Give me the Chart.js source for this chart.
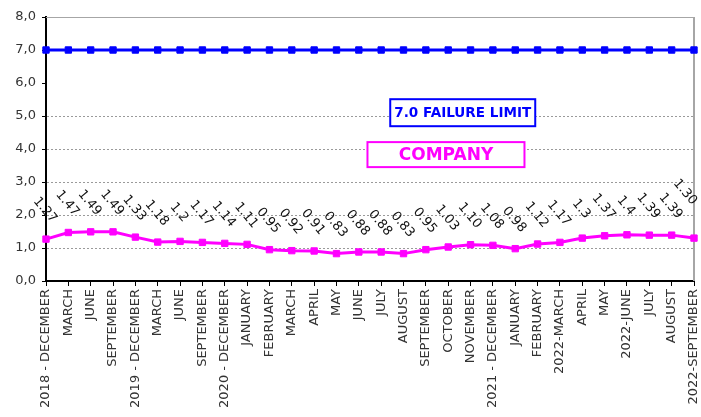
<!DOCTYPE html>
<html>
<head>
<meta charset="utf-8">
<script src="https://cdn.jsdelivr.net/npm/chart.js@4/dist/chart.umd.min.js"></script>
<style>
  html, body { margin: 0; padding: 0; background: #fff; }
  #wrap { width: 701px; height: 417px; }
</style>
</head>
<body>
<div id="wrap"><canvas id="chart" width="701" height="417"></canvas></div>
<script>
// Period labels along the bottom axis
const categories = [
  '2018 - DECEMBER', 'MARCH', 'JUNE', 'SEPTEMBER',
  '2019 - DECEMBER', 'MARCH', 'JUNE', 'SEPTEMBER',
  '2020 - DECEMBER', 'JANUARY', 'FEBRUARY', 'MARCH', 'APRIL', 'MAY', 'JUNE',
  'JULY', 'AUGUST', 'SEPTEMBER', 'OCTOBER', 'NOVEMBER',
  '2021 - DECEMBER', 'JANUARY', 'FEBRUARY', '2022-MARCH', 'APRIL', 'MAY',
  '2022-JUNE', 'JULY', 'AUGUST', '2022-SEPTEMBER'
];

// Company measurement per period
const companyValues = [
  1.27, 1.47, 1.49, 1.49, 1.33, 1.18, 1.2, 1.17, 1.14, 1.11,
  0.95, 0.92, 0.91, 0.83, 0.88, 0.88, 0.83, 0.95, 1.03, 1.10,
  1.08, 0.98, 1.12, 1.17, 1.3, 1.37, 1.4, 1.39, 1.39, 1.30
];

// Number of decimals printed for each company value
const labelDecimals = [
  2, 2, 2, 2, 2, 2, 1, 2, 2, 2,
  2, 2, 2, 2, 2, 2, 2, 2, 2, 2,
  2, 2, 2, 2, 1, 2, 1, 2, 2, 2
];

// Failure limit per period
const limitValues = [
  7.0, 7.0, 7.0, 7.0, 7.0, 7.0, 7.0, 7.0, 7.0, 7.0,
  7.0, 7.0, 7.0, 7.0, 7.0, 7.0, 7.0, 7.0, 7.0, 7.0,
  7.0, 7.0, 7.0, 7.0, 7.0, 7.0, 7.0, 7.0, 7.0, 7.0
];

// Value axis ticks
const yTicks = [0, 1, 2, 3, 4, 5, 6, 7, 8];

const FONT = '"DejaVu Sans", "Liberation Sans", sans-serif';
const BLUE = '#0000ff';
const MAGENTA = '#ff00ff';

// Grey frame along the top and right of the plot area
const framePlugin = {
  id: 'frame',
  beforeDatasetsDraw(chart) {
    const { ctx, chartArea: a } = chart;
    ctx.save();
    ctx.strokeStyle = '#a6a6a6';
    ctx.lineWidth = 1;
    ctx.beginPath();
    ctx.moveTo(a.left, a.top + 0.5);
    ctx.lineTo(a.right, a.top + 0.5);
    ctx.stroke();
    ctx.lineWidth = 2;
    ctx.beginPath();
    ctx.moveTo(a.right, a.top);
    ctx.lineTo(a.right, a.bottom);
    ctx.stroke();
    ctx.restore();
  }
};

// Slanted value labels above the company line
const valueLabelPlugin = {
  id: 'valueLabels',
  afterDatasetsDraw(chart) {
    const { ctx } = chart;
    const meta = chart.getDatasetMeta(1);
    const last = meta.data.length - 1;
    ctx.save();
    ctx.font = '13px ' + FONT;
    ctx.fillStyle = '#111';
    ctx.textAlign = 'center';
    ctx.textBaseline = 'middle';
    meta.data.forEach((pt, i) => {
      const txt = companyValues[i].toFixed(labelDecimals[i]);
      // the final label is nudged up-left so it stays inside the canvas
      const dx = i === last ? -9 : -1;
      const dy = i === last ? -46 : -29;
      ctx.save();
      ctx.translate(pt.x + dx, pt.y + dy);
      ctx.rotate(50 * Math.PI / 180);
      ctx.fillText(txt, 0, 0);
      ctx.restore();
    });
    ctx.restore();
  }
};

// Boxed series captions inside the plot
const captionPlugin = {
  id: 'captions',
  afterDatasetsDraw(chart) {
    const { ctx } = chart;
    const xs = chart.scales.x, ys = chart.scales.y;
    const boxes = [
      { text: '7.0 FAILURE LIMIT', color: BLUE, cx: xs.getPixelForValue(18.65), cy: ys.getPixelForValue(5.1), w: 145, h: 27, size: 14 },
      { text: 'COMPANY', color: MAGENTA, cx: xs.getPixelForValue(17.9), cy: ys.getPixelForValue(3.83), w: 157, h: 25, size: 17 }
    ];
    ctx.save();
    boxes.forEach(b => {
      ctx.fillStyle = '#fff';
      ctx.fillRect(b.cx - b.w / 2, b.cy - b.h / 2, b.w, b.h);
      ctx.strokeStyle = b.color;
      ctx.lineWidth = 2;
      ctx.strokeRect(b.cx - b.w / 2, b.cy - b.h / 2, b.w, b.h);
      ctx.fillStyle = b.color;
      ctx.font = 'bold ' + b.size + 'px ' + FONT;
      ctx.textAlign = 'center';
      ctx.textBaseline = 'middle';
      ctx.fillText(b.text, b.cx, b.cy + 1, b.w - 8);
    });
    ctx.restore();
  }
};

new Chart(document.getElementById('chart'), {
  type: 'line',
  data: {
    labels: categories,
    datasets: [
      {
        label: '7.0 FAILURE LIMIT',
        data: limitValues,
        borderColor: BLUE,
        backgroundColor: BLUE,
        borderWidth: 3,
        pointStyle: 'rect',
        pointRadius: 4.5,
        pointBorderWidth: 1,
        pointBackgroundColor: BLUE,
        pointBorderColor: BLUE,
        tension: 0
      },
      {
        label: 'COMPANY',
        data: companyValues,
        borderColor: MAGENTA,
        backgroundColor: MAGENTA,
        borderWidth: 3,
        pointStyle: 'rect',
        pointRadius: 4.5,
        pointBorderWidth: 1,
        pointBackgroundColor: MAGENTA,
        pointBorderColor: MAGENTA,
        tension: 0
      }
    ]
  },
  options: {
    responsive: false,
    animation: false,
    devicePixelRatio: 1,
    layout: { padding: { top: 17, right: 7, left: 0, bottom: 0 } },
    plugins: {
      legend: { display: false },
      tooltip: { enabled: false }
    },
    scales: {
      x: {
        type: 'category',
        offset: false,
        afterFit(scale) {
          scale.height = 136;
          scale.paddingLeft = 0;
          scale.paddingRight = 0;
        },
        grid: {
          drawOnChartArea: false,
          drawTicks: true,
          tickLength: 5,
          tickColor: '#000',
          tickWidth: 1
        },
        border: { color: '#000', width: 2 },
        ticks: {
          autoSkip: false,
          maxRotation: 90,
          minRotation: 90,
          padding: 3,
          color: '#333',
          font: { family: FONT, size: 13 }
        }
      },
      y: {
        min: 0,
        max: 8,
        afterFit(scale) { scale.width = 46; },
        afterBuildTicks(scale) { scale.ticks = yTicks.map(v => ({ value: v })); },
        grid: {
          color(ctx) {
            const v = ctx.tick ? ctx.tick.value : null;
            return (v === 0 || v === 6 || v === 7 || v === 8) ? 'rgba(0,0,0,0)' : '#9a9a9a';
          },
          lineWidth: 1,
          tickLength: 4,
          tickColor: '#000',
          tickWidth: 1
        },
        border: { color: '#000', width: 2, dash: [2, 2] },
        ticks: {
          padding: 6,
          color: '#333',
          font: { family: FONT, size: 13 },
          callback: v => Number(v).toFixed(1).replace('.', ',')
        }
      }
    }
  },
  plugins: [framePlugin, valueLabelPlugin, captionPlugin]
});
</script>
</body>
</html>
